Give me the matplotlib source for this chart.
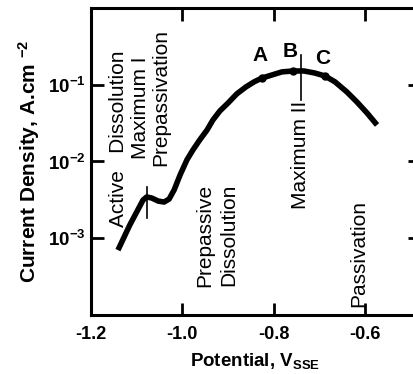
import matplotlib
matplotlib.use('Agg')
import matplotlib.pyplot as plt
from matplotlib.ticker import NullLocator

plt.rcParams['font.family'] = ['Liberation Sans', 'DejaVu Sans']
plt.rcParams['mathtext.fontset'] = 'custom'
plt.rcParams['mathtext.rm'] = 'Liberation Sans:bold'
plt.rcParams['mathtext.bf'] = 'Liberation Sans:bold'
plt.rcParams['mathtext.it'] = 'Liberation Sans:bold'

# polarisation curve
potential = [-1.141, -1.115, -1.086, -1.078, -1.067, -1.053, -1.040, -1.029,
             -1.018, -1.005, -0.990, -0.977, -0.962, -0.946, -0.933, -0.918,
             -0.900, -0.881, -0.861, -0.843, -0.826, -0.804, -0.782, -0.758,
             -0.734, -0.710, -0.688, -0.666, -0.640, -0.618, -0.596, -0.574]
current = [7.0e-4, 1.49e-3, 3.15e-3, 3.45e-3, 3.34e-3, 3.05e-3, 2.96e-3, 3.24e-3,
           4.26e-3, 6.67e-3, 1.05e-2, 1.41e-2, 1.91e-2, 2.57e-2, 3.48e-2, 4.55e-2,
           5.78e-2, 7.59e-2, 9.35e-2, 0.109, 0.122, 0.134, 0.147, 0.151,
           0.151, 0.142, 0.130, 0.109, 0.0805, 0.0596, 0.0429, 0.0299]

# marked points A, B, C
pt_names = ['A', 'B', 'C']
pt_pot = [-0.826, -0.758, -0.688]
pt_cur = [0.122, 0.151, 0.130]
pt_label_pot = [-0.830, -0.7645, -0.6934]
pt_label_cur = [0.240, 0.272, 0.220]

xticks = [-1.2, -1.0, -0.8, -0.6]
xticklabels = ['-1.2', '-1.0', '-0.8', '-0.6']
yticks = [1e-3, 1e-2, 1e-1]
yticklabels = ['$10^{-3}$', '$10^{-2}$', '$10^{-1}$']

fig = plt.figure(figsize=(4.13, 3.74), dpi=100)
ax = fig.add_axes([0.2203, 0.1578, 0.7966, 0.8209])

ax.plot(potential, current, color='black', lw=4, solid_capstyle='butt')
ax.plot(pt_pot, pt_cur, 'o', color='black', ms=5)
for name, x, y in zip(pt_names, pt_label_pot, pt_label_cur):
    ax.text(x, y, name, fontsize=15, fontweight='bold', ha='center', va='center')

# maximum markers
ax.plot([-1.0775, -1.0775], [1.84e-3, 4.66e-3], color='black', lw=1.2)
ax.plot([-0.7404, -0.7404], [0.0633, 0.244], color='black', lw=1.2)

# region annotations
notes = [
    ('Active   Dissolution', -1.139, 10 ** -1.70),
    ('Maximum I', -1.092, 10 ** -1.30),
    ('Prepassivation', -1.048, 10 ** -1.17),
    ('Prepassive', -0.950, 10 ** -2.96),
    ('Dissolution', -0.899, 10 ** -2.96),
    ('Maximum II', -0.742, 10 ** -1.91),
    ('Passivation', -0.615, 10 ** -3.20),
]
for txt, x, y in notes:
    ax.text(x, y, txt, rotation=90, fontsize=15, ha='center', va='center')

ax.set_yscale('log')
ax.set_xlim(-1.2, -0.48)
ax.set_ylim(1e-4, 1)
ax.set_xticks(xticks)
ax.set_xticklabels(xticklabels, fontweight='bold', fontsize=13)
ax.set_yticks(yticks)
ax.set_yticklabels(yticklabels, fontsize=13.5)
ax.yaxis.set_minor_locator(NullLocator())
ax.tick_params(direction='in', top=True, right=True, length=9, width=2)
ax.tick_params(axis='x', pad=8)
ax.tick_params(axis='y', pad=4)
for s in ax.spines.values():
    s.set_linewidth(2.2)

ax.set_xlabel('Potential, V$_{\\mathrm{SSE}}$', fontsize=13.5, fontweight='bold', labelpad=6)
ax.set_ylabel('Current Density, A.cm $^{-2}$', fontsize=15, fontweight='bold', labelpad=4)

fig.savefig('out.png', dpi=100)
